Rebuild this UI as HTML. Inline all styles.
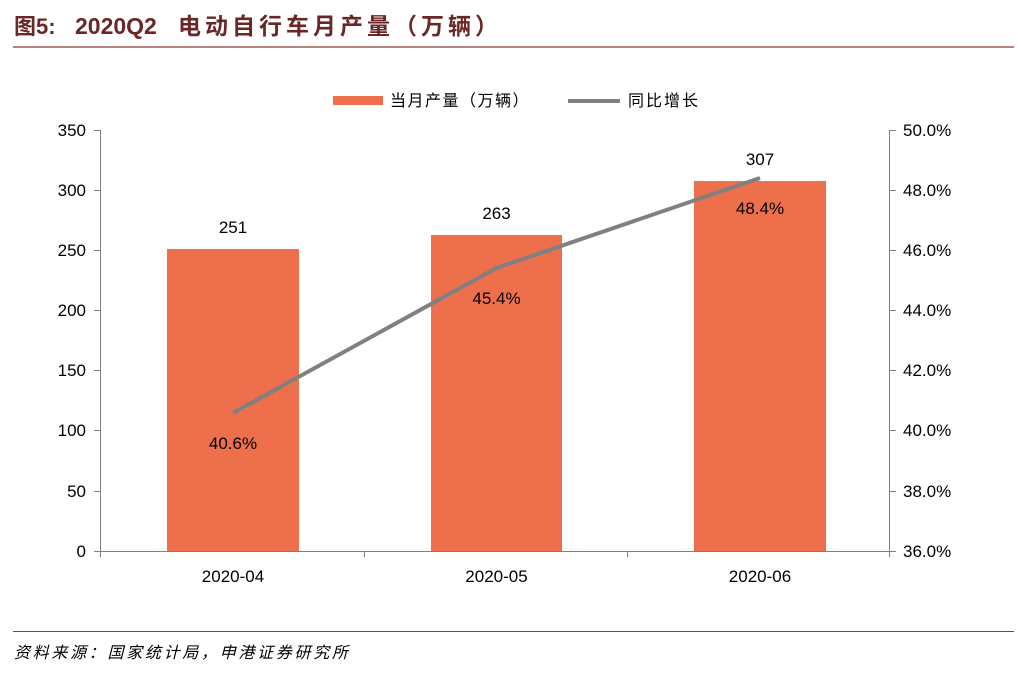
<!DOCTYPE html>
<html><head><meta charset="utf-8"><style>
body{margin:0;background:#fff;}
</style></head><body>
<svg width="1021" height="677" viewBox="0 0 1021 677" xmlns="http://www.w3.org/2000/svg" font-family="Liberation Sans, Noto Sans CJK SC, sans-serif">
<text x="14" y="34" font-size="22" font-weight="bold" fill="#6b2626">图5:</text>
<text x="75" y="34" font-size="23" font-weight="bold" fill="#6b2626">2020Q2</text>
<text x="178" y="34" font-size="23" font-weight="bold" fill="#6b2626" letter-spacing="4">电动自行车月产量（万辆）</text>
<line x1="13" y1="47" x2="1014" y2="47" stroke="#8a3a2a" stroke-width="1.2"/>
<rect x="333" y="96" width="50" height="9" fill="#ee6f4b"/>
<text x="390" y="106" font-size="16" fill="#000" letter-spacing="1.5">当月产量（万辆）</text>
<line x1="568" y1="101" x2="620" y2="101" stroke="#808080" stroke-width="4"/>
<text x="628" y="106" font-size="16" fill="#000" letter-spacing="2">同比增长</text>
<g stroke="#808080" stroke-width="1">
<line x1="100.5" y1="130" x2="100.5" y2="551"/>
<line x1="889.5" y1="130" x2="889.5" y2="551"/>
<line x1="100" y1="551.5" x2="890" y2="551.5"/>
<line x1="94" y1="130.5" x2="100" y2="130.5"/><line x1="94" y1="190.5" x2="100" y2="190.5"/><line x1="94" y1="250.5" x2="100" y2="250.5"/><line x1="94" y1="310.5" x2="100" y2="310.5"/><line x1="94" y1="370.5" x2="100" y2="370.5"/><line x1="94" y1="430.5" x2="100" y2="430.5"/><line x1="94" y1="491.5" x2="100" y2="491.5"/><line x1="94" y1="551.5" x2="100" y2="551.5"/>
<line x1="890" y1="130.5" x2="896" y2="130.5"/><line x1="890" y1="190.5" x2="896" y2="190.5"/><line x1="890" y1="250.5" x2="896" y2="250.5"/><line x1="890" y1="310.5" x2="896" y2="310.5"/><line x1="890" y1="370.5" x2="896" y2="370.5"/><line x1="890" y1="430.5" x2="896" y2="430.5"/><line x1="890" y1="491.5" x2="896" y2="491.5"/><line x1="890" y1="551.5" x2="896" y2="551.5"/>
<line x1="100.5" y1="551" x2="100.5" y2="557"/><line x1="364.5" y1="551" x2="364.5" y2="557"/><line x1="627.5" y1="551" x2="627.5" y2="557"/><line x1="889.5" y1="551" x2="889.5" y2="557"/>
</g>
<g font-size="17" fill="#000" text-anchor="end">
<text x="86" y="136">350</text><text x="86" y="196">300</text><text x="86" y="256">250</text><text x="86" y="316">200</text><text x="86" y="376">150</text><text x="86" y="436">100</text><text x="86" y="497">50</text><text x="86" y="557">0</text>
</g>
<g font-size="17" fill="#000">
<text x="903" y="136">50.0%</text><text x="903" y="196">48.0%</text><text x="903" y="256">46.0%</text><text x="903" y="316">44.0%</text><text x="903" y="376">42.0%</text><text x="903" y="436">40.0%</text><text x="903" y="497">38.0%</text><text x="903" y="557">36.0%</text>
</g>
<rect x="167" y="249" width="132" height="302" fill="#ee6f4b"/>
<rect x="431" y="235" width="131" height="316" fill="#ee6f4b"/>
<rect x="694" y="181" width="132" height="370" fill="#ee6f4b"/>
<polyline points="233,413 496.5,268 760,178" fill="none" stroke="#808080" stroke-width="4"/>
<g font-size="17" fill="#000" text-anchor="middle">
<text x="233" y="233">251</text><text x="496.5" y="219">263</text><text x="760" y="165">307</text>
<text x="233" y="449">40.6%</text><text x="496.5" y="304">45.4%</text><text x="760" y="214">48.4%</text>
<text x="233" y="582">2020-04</text><text x="496.5" y="582">2020-05</text><text x="760" y="582">2020-06</text>
</g>
<line x1="13" y1="631.5" x2="1014" y2="631.5" stroke="#555" stroke-width="1"/>
<text x="14" y="658" font-size="16" font-style="italic" fill="#000" letter-spacing="2.7">资料来源：国家统计局，申港证券研究所</text>
</svg>
</body></html>
